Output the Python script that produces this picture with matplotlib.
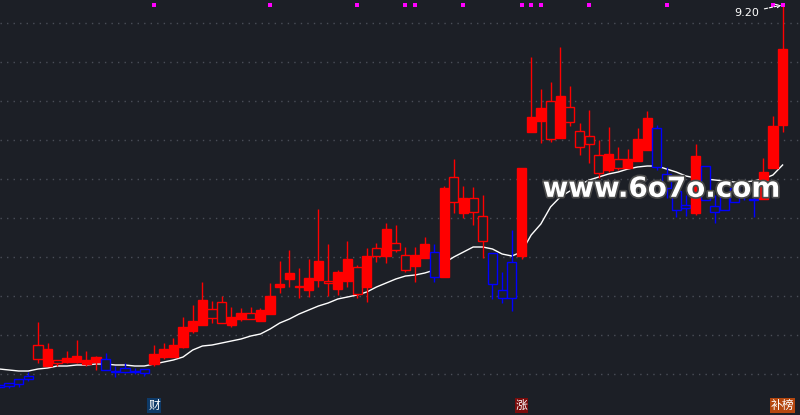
import matplotlib
matplotlib.use("Agg")
import matplotlib.pyplot as plt
import matplotlib.patheffects as pe
import numpy as np

# daily bars
opens = [5.40, 5.42, 5.46, 5.49, 5.80, 5.59, 5.65, 5.63, 5.63, 5.61,
         5.63, 5.66, 5.54, 5.57, 5.54, 5.56, 5.61, 5.68, 5.68, 5.78,
         5.94, 6.00, 6.16, 6.23, 6.00, 6.06, 6.12, 6.04, 6.11, 6.38,
         6.46, 6.38, 6.35, 6.45, 6.44, 6.36, 6.44, 6.58, 6.38, 6.77,
         6.69, 6.82, 6.70, 6.59, 6.67, 6.73, 6.48, 7.48, 7.12, 7.27,
         7.09, 6.72, 6.35, 6.63, 6.69, 7.93, 8.04, 8.24, 7.87, 8.18,
         7.94, 7.89, 7.70, 7.55, 7.66, 7.57, 7.64, 7.75, 7.97, 7.51,
         7.34, 7.20, 7.12, 7.59, 7.19, 7.29, 7.37, 7.40, 7.26, 7.26,
         7.57, 8.00]
highs = [5.41, 5.42, 5.46, 5.53, 6.03, 5.82, 5.65, 5.74, 5.85, 5.74,
         5.69, 5.72, 5.59, 5.62, 5.57, 5.56, 5.80, 5.82, 5.87, 6.08,
         6.20, 6.43, 6.24, 6.29, 6.18, 6.17, 6.18, 6.17, 6.42, 6.64,
         6.75, 6.57, 6.66, 7.16, 6.81, 6.55, 6.84, 6.60, 6.77, 6.82,
         7.02, 7.00, 6.78, 6.78, 6.88, 6.81, 7.39, 7.66, 7.39, 7.38,
         7.30, 6.72, 6.53, 6.95, 7.57, 8.68, 8.36, 8.43, 8.78, 8.39,
         8.02, 8.15, 7.85, 7.98, 7.78, 7.76, 7.97, 8.14, 8.00, 7.58,
         7.35, 7.30, 7.81, 7.59, 7.30, 7.29, 7.42, 7.43, 7.40, 7.67,
         8.09, 9.20]
lows = [5.37, 5.37, 5.38, 5.44, 5.62, 5.59, 5.59, 5.62, 5.62, 5.59,
        5.55, 5.55, 5.48, 5.52, 5.51, 5.49, 5.59, 5.66, 5.68, 5.77,
        5.92, 6.00, 6.02, 6.02, 5.98, 6.04, 6.06, 6.04, 6.11, 6.32,
        6.38, 6.27, 6.28, 6.38, 6.29, 6.30, 6.38, 6.27, 6.23, 6.63,
        6.62, 6.73, 6.53, 6.43, 6.67, 6.43, 6.48, 7.12, 7.07, 7.00,
        6.67, 6.26, 6.22, 6.14, 6.66, 7.93, 7.82, 7.83, 7.87, 7.99,
        7.70, 7.62, 7.47, 7.53, 7.55, 7.57, 7.64, 7.75, 7.55, 7.27,
        7.08, 7.09, 7.10, 7.25, 7.02, 7.15, 7.23, 7.25, 7.08, 7.26,
        7.57, 7.93]
closes = [5.38, 5.39, 5.41, 5.46, 5.66, 5.76, 5.62, 5.67, 5.69, 5.65,
          5.68, 5.55, 5.53, 5.53, 5.53, 5.52, 5.71, 5.76, 5.80, 5.98,
          6.04, 6.25, 6.07, 6.02, 6.08, 6.12, 6.06, 6.15, 6.29, 6.41,
          6.52, 6.39, 6.47, 6.64, 6.42, 6.53, 6.66, 6.31, 6.69, 6.69,
          6.96, 6.75, 6.55, 6.70, 6.81, 6.48, 7.37, 7.23, 7.27, 7.13,
          6.84, 6.41, 6.27, 6.27, 7.57, 8.08, 8.17, 7.86, 8.29, 8.03,
          7.78, 7.81, 7.52, 7.71, 7.57, 7.66, 7.86, 8.07, 7.58, 7.37,
          7.15, 7.17, 7.69, 7.25, 7.13, 7.15, 7.23, 7.32, 7.25, 7.53,
          7.99, 8.76]
ma_line = [5.56, 5.55, 5.54, 5.54, 5.56, 5.57, 5.59, 5.59, 5.60, 5.60,
           5.61, 5.61, 5.60, 5.60, 5.59, 5.59, 5.61, 5.63, 5.65, 5.68,
           5.75, 5.79, 5.80, 5.82, 5.84, 5.86, 5.89, 5.91, 5.96, 6.02,
           6.06, 6.11, 6.15, 6.19, 6.22, 6.26, 6.28, 6.30, 6.33, 6.38,
           6.42, 6.46, 6.49, 6.50, 6.52, 6.55, 6.62, 6.68, 6.73, 6.78,
           6.78, 6.76, 6.71, 6.69, 6.73, 6.90, 7.01, 7.18, 7.28, 7.34,
           7.40, 7.45, 7.48, 7.51, 7.53, 7.56, 7.58, 7.59, 7.59, 7.56,
           7.53, 7.49, 7.47, 7.46, 7.45, 7.44, 7.43, 7.43, 7.44, 7.46,
           7.50, 7.60]
signal_days = [16, 28, 37, 42, 43, 48, 54, 55, 56, 61, 69, 80, 81]
event_days = [16, 54, 81]
event_text = ["财", "涨", "补榜"]
event_colors = ["#0e3a68", "#7a0b0b", "#b4470f"]
peak_label = "9.20"
watermark = "www.6o7o.com"

BG = "#1c1f26"
UP = "#ff0000"
DOWN = "#0000ff"

plt.rcParams["font.family"] = ["Noto Sans CJK SC", "DejaVu Sans"]

o = np.array(opens)
h = np.array(highs)
l = np.array(lows)
c = np.array(closes)
ma = np.array(ma_line)
x = np.arange(len(c))

fig = plt.figure(figsize=(8, 4.15), dpi=100, facecolor=BG)
ax = fig.add_axes([0, 0, 1, 1], facecolor=BG)
ax.set_xlim(0.07, 82.8)
ax.set_ylim(5.10, 9.25)
ax.axis("off")

for lvl in np.linspace(9.02, 5.51, 10):
    ax.axhline(lvl, color="#4a4e58", lw=1.0, ls=(0, (1, 3.7)), zorder=0)

ax.plot(x, ma, color="white", lw=1.0, zorder=1)

colors = np.where(c >= ma, UP, DOWN)
filled = c > o
body_lo = np.minimum(o, c)
body_hi = np.maximum(o, c)

ax.vlines(x, body_hi, h, colors=colors, lw=1.0, zorder=2)
ax.vlines(x, l, body_lo, colors=colors, lw=1.0, zorder=2)
faces = [col if f else BG for col, f in zip(colors, filled)]
ax.bar(x, body_hi - body_lo, bottom=body_lo, width=0.95,
       color=faces, edgecolor=colors, linewidth=1.0, zorder=3)

# signal markers along the top edge
ax.scatter(signal_days, np.full(len(signal_days), 0.987), marker="s", s=6,
           color="#ff00ff", transform=ax.get_xaxis_transform(), zorder=4,
           linewidths=0)

# peak annotation
top = int(np.argmax(h))
ax.annotate(peak_label, xy=(x[top], h[top]), xytext=(-26, -5.5),
            textcoords="offset points", ha="center", va="center",
            color="white", fontsize=8, family="DejaVu Sans",
            arrowprops=dict(arrowstyle="->", color="white", lw=0.8,
                            ls=(0, (3, 1.5)), shrinkA=2, shrinkB=1),
            zorder=5)

# event tags under the candles
for day, txt, bgc in zip(event_days, event_text, event_colors):
    near_edge = day + 1 > ax.get_xlim()[1]
    ax.text(day + 0.5 if near_edge else day, 0.022, txt,
            transform=ax.get_xaxis_transform(),
            ha="right" if near_edge else "center", va="center",
            color="white", fontsize=8.5,
            bbox=dict(boxstyle="square,pad=0.08", fc=bgc, ec="none"),
            zorder=5)

ax.text(0.827, 0.545, watermark, transform=ax.transAxes,
        ha="center", va="center", color="white", fontsize=20,
        fontweight="bold", family="DejaVu Sans", zorder=6,
        path_effects=[pe.withStroke(linewidth=2.5, foreground="#4a4a4a")])

fig.savefig("out.png", dpi=100, facecolor=BG)
